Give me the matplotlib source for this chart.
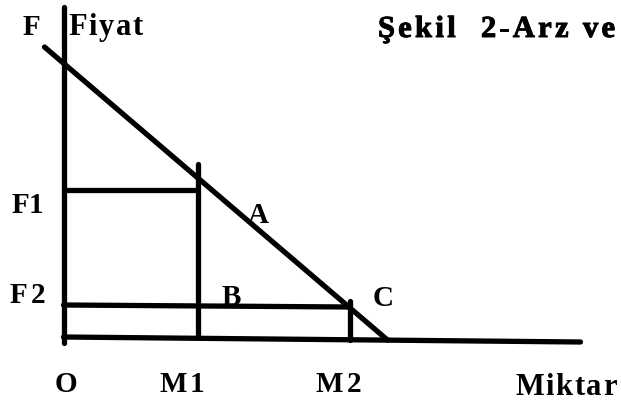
import matplotlib
matplotlib.use('Agg')
import matplotlib.pyplot as plt
import matplotlib.patheffects as pe

m1 = 134          # quantity M1
m2 = 286          # quantity M2
f1 = 147          # price F1
f2 = 31           # price F2
m_tops = [173, 36]            # where the M1 / M2 verticals stop
demand_q = [-19, 324]
demand_p = [290, -3]
axis_q = [0, 517]
axis_p = [0, -5]              # the scanned x axis is slightly tilted
yaxis_p = [-6, 330]

# text labels: (left, right, baseline, text, size, extra stroke)
labels = [
    (-38.5, -26.5, 302, 'F', 21, 0),
    (4.5, 79.5, 302, 'Fiyat', 22, 0),
    (314.5, 551.5, 300, 'Şekil  2-Arz ve', 22, 0.7),
    (-51.5, -20.5, 124, 'F1', 21, 0),
    (-53.5, -18.5, 34, 'F2', 21, 0),
    (184.5, 204.5, 114, 'A', 21, 0),
    (156.5, 179.5, 32, 'B', 21, 0),
    (309.5, 329.5, 31, 'C', 21, 0),
    (-8.5, 13.5, -55, 'O', 21, 0),
    (96.5, 140.5, -55, 'M1', 21, 0),
    (252.5, 297.5, -55, 'M2', 21, 0),
    (451.5, 553.5, -58, 'Miktar', 22, 0),
]

fig = plt.figure(figsize=(6.21, 4.03), dpi=100)
ax = fig.add_axes([0, 0, 1, 1])
ax.set_xlim(-63.5, 557.5)
ax.set_ylim(-66, 337)
ax.axis('off')

kw = dict(color='black', lw=3.8, solid_capstyle='round')
ax.plot([0, 0], yaxis_p, **kw)
ax.plot(axis_q, axis_p, **kw)
ax.plot(demand_q, demand_p, **kw)
ax.plot([0, m1], [f1, f1], **kw)
ax.plot([m1, m1], [m_tops[0], 0], **kw)
ax.plot([0, m2], [f2 + 1, f2 - 1], **kw)
ax.plot([m2, m2], [m_tops[1], -3], **kw)

renderer = fig.canvas.get_renderer()


def spread(x0, x1, base, s, size, stroke):
    font = dict(family='Liberation Serif', size=size, weight='bold')
    effects = []
    if stroke:
        effects = [pe.withStroke(linewidth=stroke, foreground='black')]
    if len(s) == 1:
        ax.text((x0 + x1) / 2, base, s, ha='center', va='baseline',
                path_effects=effects, **font)
        return
    # 1 data unit == 1 pixel, so ink widths can be used directly
    widths = []
    for ch in s:
        if ch == ' ':
            widths.append(size / 0.72 * 0.25)
        else:
            t = ax.text(0, 0, ch, **font)
            widths.append(t.get_window_extent(renderer).width)
            t.remove()
    gap = (x1 - x0 - sum(widths)) / (len(s) - 1)
    x = x0
    for ch, w in zip(s, widths):
        if ch != ' ':
            ax.text(x, base, ch, ha='left', va='baseline',
                    path_effects=effects, **font)
        x += w + gap


for x0, x1, base, s, size, stroke in labels:
    spread(x0, x1, base, s, size, stroke)

fig.savefig('out.png', dpi=100, facecolor='white')
